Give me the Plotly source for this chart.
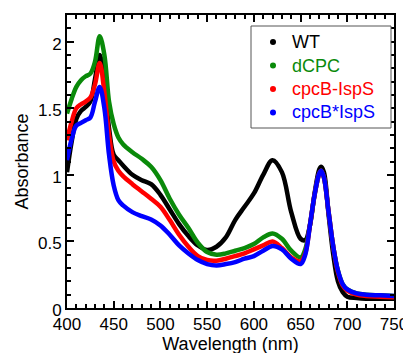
import plotly.graph_objects as go

wavelength = [400, 405, 410, 415, 420, 425, 430, 435, 440, 445, 450, 455, 460, 470, 480, 490,
              500, 510, 520, 530, 540, 550, 560, 570, 580, 590, 600, 610, 620, 630, 640, 650,
              655, 660, 665, 670, 672, 675, 680, 685, 690, 695, 700, 710, 720, 735, 750]

wt = [1.02, 1.25, 1.42, 1.48, 1.51, 1.55, 1.72, 1.90, 1.70, 1.35, 1.15, 1.11, 1.07, 1.00, 0.96, 0.93,
      0.85, 0.74, 0.63, 0.54, 0.47, 0.435, 0.46, 0.53, 0.66, 0.76, 0.86, 1.00, 1.11, 1.02, 0.72, 0.52,
      0.51, 0.62, 0.86, 1.04, 1.06, 1.02, 0.70, 0.40, 0.20, 0.12, 0.085, 0.075, 0.07, 0.07, 0.07]

dcpc = [1.46, 1.57, 1.66, 1.71, 1.74, 1.76, 1.85, 2.04, 1.90, 1.55, 1.38, 1.28, 1.23, 1.17, 1.12, 1.06,
        0.96, 0.82, 0.70, 0.60, 0.49, 0.42, 0.40, 0.41, 0.43, 0.45, 0.48, 0.53, 0.56, 0.52, 0.43, 0.38,
        0.44, 0.62, 0.85, 1.01, 1.03, 0.98, 0.72, 0.46, 0.28, 0.18, 0.14, 0.11, 0.10, 0.095, 0.09]

cpcb_isps = [1.26, 1.40, 1.50, 1.53, 1.55, 1.58, 1.68, 1.84, 1.62, 1.30, 1.10, 1.03, 0.99, 0.93, 0.875, 0.82,
             0.76, 0.66, 0.55, 0.46, 0.39, 0.36, 0.355, 0.37, 0.39, 0.41, 0.44, 0.47, 0.50, 0.45, 0.38, 0.35,
             0.41, 0.62, 0.85, 1.01, 1.03, 0.98, 0.72, 0.46, 0.27, 0.17, 0.13, 0.10, 0.09, 0.085, 0.08]

cpcb_star_isps = [1.11, 1.27, 1.37, 1.39, 1.41, 1.43, 1.55, 1.66, 1.50, 1.15, 0.92, 0.81, 0.77, 0.72, 0.69, 0.665,
                  0.62, 0.55, 0.47, 0.41, 0.36, 0.33, 0.32, 0.33, 0.345, 0.37, 0.39, 0.43, 0.465, 0.44, 0.37, 0.33,
                  0.40, 0.62, 0.85, 1.01, 1.03, 0.98, 0.72, 0.46, 0.28, 0.18, 0.14, 0.11, 0.10, 0.095, 0.09]

series_names = ["WT", "dCPC", "cpcB-IspS", "cpcB*IspS"]
series_values = [wt, dcpc, cpcb_isps, cpcb_star_isps]
series_colors = ["#000000", "#0a8a0a", "#ff0000", "#0000ff"]

x_ticks = [400, 450, 500, 550, 600, 650, 700, 750]
y_ticks = [0, 0.5, 1, 1.5, 2]

fig = go.Figure()
for name, vals, col in zip(series_names, series_values, series_colors):
    fig.add_trace(go.Scatter(x=wavelength, y=vals, mode="lines", name=name,
                             line=dict(color=col, width=4.5, shape="spline"),
                             showlegend=False, hoverinfo="skip"))

# Hand-built legend box, positioned relative to the plot area (screen pixels)
plot_l, plot_r, plot_t, plot_b = 67, 394, 15, 308
def px_x(p):
    return (p - plot_l) / (plot_r - plot_l)
def px_y(p):
    return (plot_b - p) / (plot_b - plot_t)

fig.add_shape(type="rect", xref="paper", yref="paper",
              x0=px_x(251), x1=px_x(391), y0=px_y(128), y1=px_y(26),
              line=dict(color="#555555", width=1), fillcolor="white", layer="above")
entry_y = [42, 65.5, 89, 112.5]
for name, col, ey in zip(series_names, series_colors, entry_y):
    fig.add_shape(type="circle", xref="paper", yref="paper", xsizemode="pixel", ysizemode="pixel",
                  xanchor=px_x(273), yanchor=px_y(ey), x0=-3, x1=3, y0=-3, y1=3,
                  line=dict(color=col, width=0), fillcolor=col, layer="above")
    fig.add_annotation(xref="paper", yref="paper", x=px_x(290), y=px_y(ey), text=name,
                       showarrow=False, xanchor="left", yanchor="middle",
                       font=dict(size=18, color=col))

axis_common = dict(showline=True, linecolor="black", linewidth=2, mirror="ticks", ticks="inside",
                   tickcolor="black", tickwidth=2, ticklen=7, showgrid=False, zeroline=False,
                   tickfont=dict(size=17, color="black"))

fig.update_xaxes(range=[400, 750], tickvals=x_ticks, ticklabelstandoff=0,
                 title=dict(text="Wavelength (nm)", standoff=0, font=dict(size=18, color="black")),
                 minor=dict(ticks="inside", dtick=10, ticklen=4, tickcolor="black", tickwidth=1.5),
                 **axis_common)
fig.update_yaxes(range=[0, 2.2], tickvals=y_ticks, ticklabelshift=2,
                 title=dict(text="Absorbance", standoff=5, font=dict(size=18, color="black")),
                 minor=dict(ticks="inside", dtick=0.1, ticklen=4, tickcolor="black", tickwidth=1.5),
                 **axis_common)

# the page body adds an 8px offset, so the margins are shifted to compensate
fig.update_layout(
    width=411, height=353,
    margin=dict(l=59, r=25, t=7, b=53, autoexpand=False),
    plot_bgcolor="white", paper_bgcolor="white",
    font=dict(family="Liberation Sans, Arial, sans-serif", size=17, color="black"),
    showlegend=False,
)

fig.write_html("out.html")
